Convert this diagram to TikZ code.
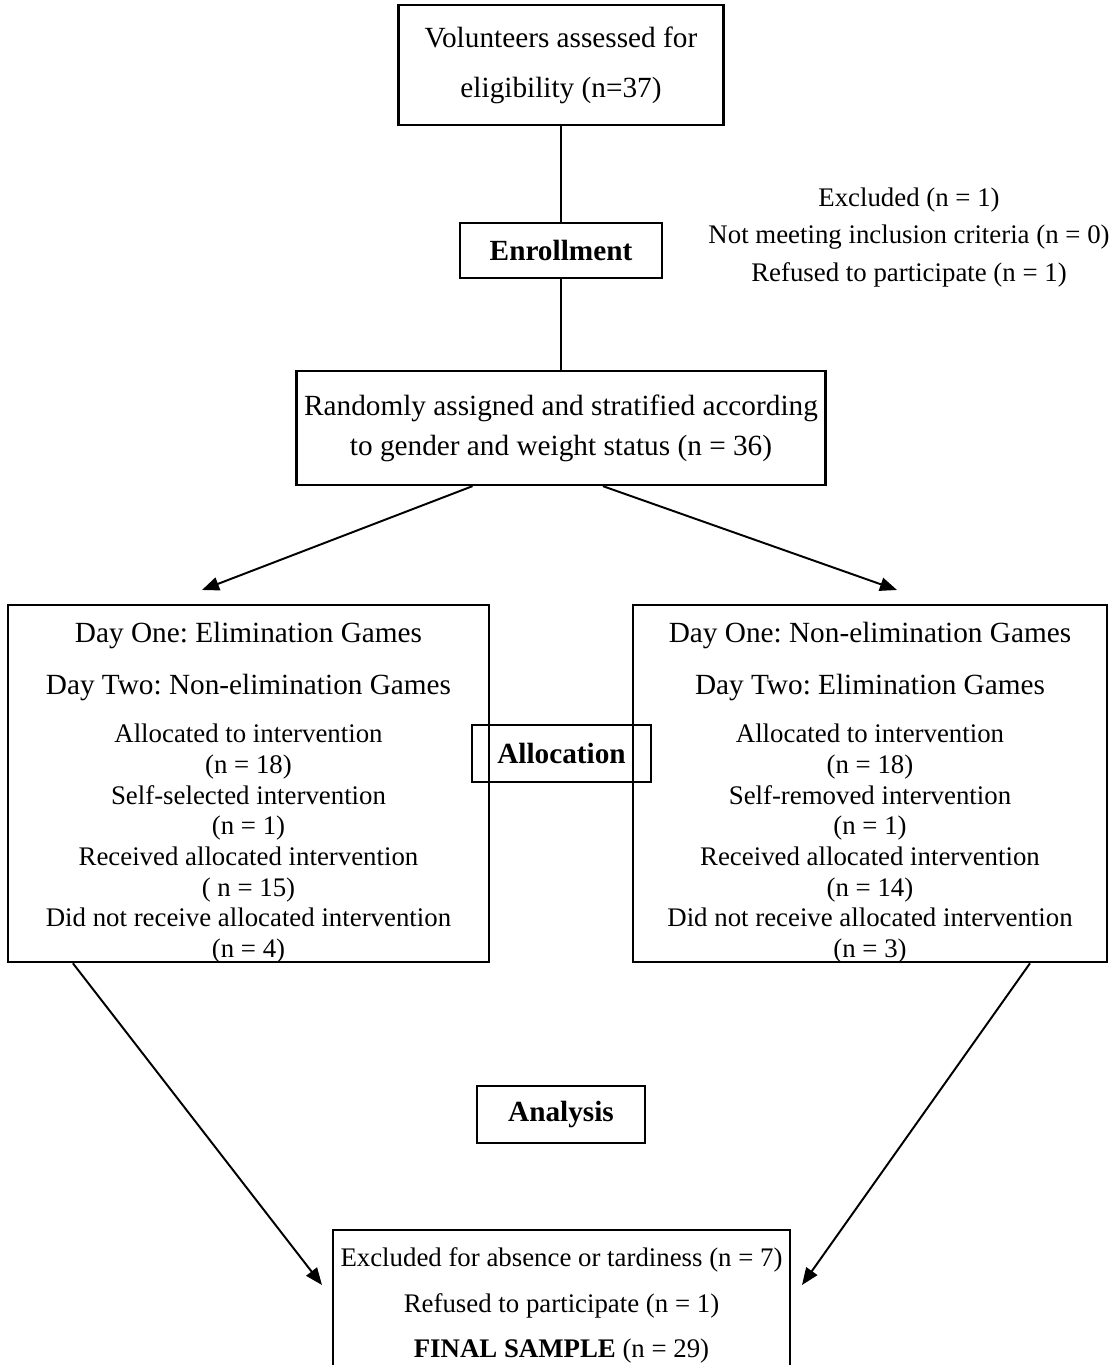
\documentclass[tikz,border=0pt]{standalone}
\usepackage{fontspec}
\setmainfont{Liberation Serif}
\frenchspacing
\usetikzlibrary{arrows.meta,positioning}
\newcommand{\twelve}{\fontsize{12}{12.6}\selectfont}
\newcommand{\eleven}{\fontsize{11}{12.6}\selectfont}
\tikzset{
    box/.style={rectangle,draw,line width=1pt,align=center,inner sep=0pt},
    invisible/.style={align=center,inner sep=0pt},
    link/.style={line width=0.8pt},
    pre/.style={-{Triangle[length=7pt,width=5.5pt]},line width=0.8pt}
}

\begin{document}
\begin{tikzpicture}[x=0.41pt,y=-0.41pt,font=\twelve]

    \useasboundingbox (0,0) rectangle (1108,1365);

    \node[box,minimum width=133.3pt,minimum height=49.2pt] (volunteers) at (561,65)
        {Volunteers assessed for\\[7.9pt] eligibility (n=37)};
    \node[box,minimum width=82.8pt,minimum height=22.6pt] (enrollment) at (561,250.5)
        {\textbf{Enrollment}};
    \node[invisible,font=\eleven] (excluded) at (909,237.5)
        {Excluded (n = 1)\\[2.8pt] Not meeting inclusion criteria (n = 0)\\[2.8pt] Refused to participate (n = 1)};
    \node[box,minimum width=216.9pt,minimum height=46.7pt] (random) at (561,428)
        {Randomly assigned and stratified according\\[3.8pt] to gender and weight status (n = 36)};

    \node[box,minimum width=197.2pt,minimum height=146.4pt] (arm 1) at (248.5,783.5) {};
    \node[invisible,font=\eleven,below=7.4pt of arm 1.north] (arm 1 text)
        {\twelve Day One: Elimination Games\\[8.7pt] \twelve Day Two: Non-elimination Games\\[7.1pt]
         Allocated to intervention\\ (n = 18)\\ Self-selected intervention\\ (n = 1)\\
         Received allocated intervention\\ ( n = 15)\\ Did not receive allocated intervention\\ (n = 4)};
    \node[box,minimum width=194.3pt,minimum height=146.4pt] (arm 2) at (870,783.5) {};
    \node[invisible,font=\eleven,below=7.4pt of arm 2.north] (arm 2 text)
        {\twelve Day One: Non-elimination Games\\[8.7pt] \twelve Day Two: Elimination Games\\[7.1pt]
         Allocated to intervention\\ (n = 18)\\ Self-removed intervention\\ (n = 1)\\
         Received allocated intervention\\ (n = 14)\\ Did not receive allocated intervention\\ (n = 3)};
    \node[box,minimum width=73.4pt,minimum height=23.4pt] (allocation) at (561.5,753.5)
        {\textbf{Allocation}};

    \node[box,minimum width=68.9pt,minimum height=23.4pt] (analysis) at (561,1114.5)
        {\textbf{Analysis}};
    \node[box,font=\eleven,minimum width=187.4pt,minimum height=61.9pt] (final) at (561.5,1305.5)
        {Excluded for absence or tardiness (n = 7)\\[5.9pt] Refused to participate (n = 1)\\[5.9pt]
         \textbf{FINAL SAMPLE} (n = 29)};

    \coordinate (tip 1) at (202,590);
    \coordinate (tip 2) at (897,590);
    \coordinate (tip 3) at (322,1285);
    \coordinate (tip 4) at (802,1285);

    \draw[link] (volunteers) -- (enrollment);
    \draw[link] (enrollment) -- (random);
    \draw[pre] ([xshift=-36.3pt]random.south) -- (tip 1);
    \draw[pre] ([xshift=17.2pt]random.south) -- (tip 2);
    \draw[pre] ([xshift=-72pt]arm 1.south) -- (tip 3);
    \draw[pre] ([xshift=65.6pt]arm 2.south) -- (tip 4);

\end{tikzpicture}
\end{document}
